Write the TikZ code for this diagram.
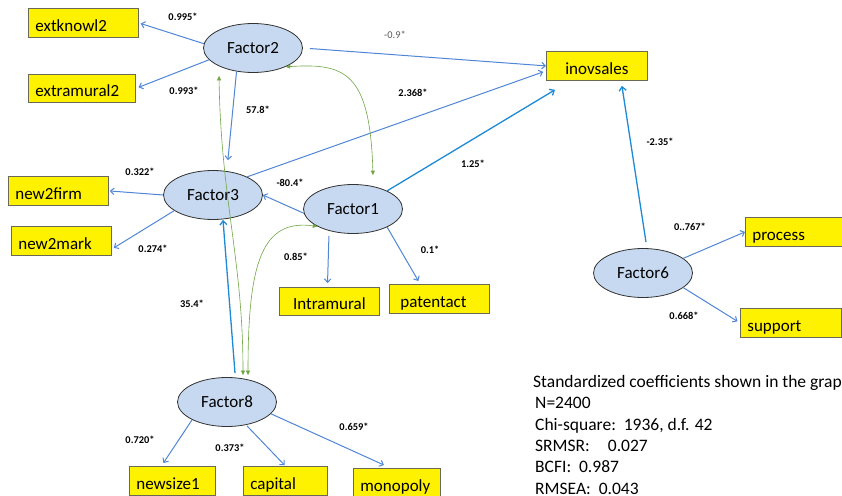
\documentclass[tikz,border=0pt]{standalone}
\usepackage{fontspec}
\setmainfont{Carlito}
\usetikzlibrary{shapes.geometric,arrows.meta}

\definecolor{pathblue}{RGB}{79,134,214}
\definecolor{mainblue}{RGB}{28,138,214}
\definecolor{covgreen}{RGB}{112,166,68}
\definecolor{factorfill}{RGB}{198,217,240}
\definecolor{boxline}{RGB}{105,105,85}

\tikzset{
	factor/.style={ellipse, draw=black!80, fill=factorfill, line width=0.8pt, minimum width=99pt, minimum height=49pt, inner sep=0pt, font=\fontsize{17}{20}\selectfont},
	obs/.style={draw=boxline, fill=yellow, line width=0.8pt, anchor=north west, minimum height=29pt, inner ysep=0pt, inner xsep=7pt, text width=#1, align=left, text height=17.5pt, text depth=0.5pt, font=\fontsize{17}{20}\selectfont},
	coef/.style={inner sep=0pt, font=\bfseries\fontsize{10.4}{12}\selectfont},
	load/.style={draw=pathblue, line width=1pt, -{Straight Barb[length=3.5pt,width=6.5pt]}},
	effect/.style={draw=mainblue, line width=1.3pt, -{Straight Barb[length=4pt,width=7pt]}},
	covar/.style={draw=covgreen, line width=0.6pt, {Triangle[length=4.5pt,width=4pt]}-{Triangle[length=4.5pt,width=4pt]}},
}

\begin{document}
\begin{tikzpicture}[x=1pt,y=-1pt]
		%%%%% START %%%%%
		\useasboundingbox (0,0) rectangle (842,495);
		
		% latent factors
		\node[factor] (factor2) at (253,48) {Factor2};
		\node[factor] (factor3) at (213,195) {Factor3};
		\node[factor] (factor1) at (353,209) {Factor1};
		\node[factor] (factor6) at (643,273) {Factor6};
		\node[factor] (factor8) at (227,402) {Factor8};
		
		% observed variables
		\node[obs=96pt] (extknowl2) at (28,8) {extknowl2};
		\node[obs=93pt, minimum height=28pt] (extramural2) at (28,74) {extramural2};
		\node[obs=87pt, align=center] (inovsales) at (546,51) {inovsales};
		\node[obs=86pt] (new2firm) at (8,176) {new2firm};
		\node[obs=86pt] (new2mark) at (11,226) {new2mark};
		\node[obs=86pt, align=center, minimum height=28pt] (intramural) at (279,287) {Intramural};
		\node[obs=78pt, inner xsep=11pt] (patentact) at (389,284) {patentact};
		\node[obs=86pt] (process) at (745,217) {process};
		\node[obs=87pt] (support) at (740,308) {support};
		\node[obs=72pt] (newsize1) at (129,466) {newsize1};
		\node[obs=70pt] (capital) at (243,466) {capital};
		\node[obs=73pt] (monopoly) at (353,468) {monopoly};
		
		% paths
		\draw[load, shorten >=2pt] (factor2.175) -- (extknowl2.east);
		\draw[load, shorten >=3pt] (factor2.195) -- (extramural2.east);
		\draw[load, shorten <=7pt] (factor2.east) -- (inovsales.west);
		\draw[load, shorten >=11pt] (factor2.235) -- (factor3.60);
		
		\draw[load, shorten >=3pt] (factor3.28) -- ([yshift=-5pt]inovsales.west);
		\draw[load, shorten >=1pt] (factor3.west) -- (new2firm.east);
		\draw[load] (factor3.202) -- ([shift={(2,7)}]new2mark.east);
		
		\draw[load] (factor1.185) -- (factor3.east);
		\draw[effect] (factor1.28) -- ([shift={(9,9)}]inovsales.south west);
		\draw[load, shorten <=2pt, shorten >=4pt] ([xshift=-24pt]factor1.south) -- ([xshift=-2pt]intramural.north);
		\draw[load] (factor1.332) -- ([shift={(-21,-3)}]patentact.north);
		
		\draw[effect] ([shift={(3,-6)}]factor6.north) -- ([shift={(25,5)}]inovsales.south);
		\draw[load] (factor6.20) -- (process.west);
		\draw[load, shorten >=3pt] (factor6.340) -- (support.west);
		
		\draw[effect] ([shift={(8,-4)}]factor8.north) -- ([xshift=10pt]factor3.south);
		\draw[load] (factor8.207) -- ([shift={(-9,-3)}]newsize1.north);
		\draw[load, shorten >=1pt] ([shift={(20,-1)}]factor8.south) -- (capital.north);
		\draw[load] (factor8.345) -- ([shift={(-13,-3)}]monopoly.north);
		
		% covariances
		\draw[covar] (factor2.330) .. controls (345,63) and (370,72) .. ([shift={(20,-9)}]factor1.north);
		\draw[covar] ([shift={(-34,3)}]factor2.south) .. controls (221,200) and (243,260) .. ([shift={(16,-2)}]factor8.north);
		\draw[covar] (factor1.206) .. controls (262,219) and (248,262) .. ([shift={(21,-2)}]factor8.north);
		
		% coefficients
		\node[coef] (c-extknowl2) at (183,17) {0.995*};
		\node[coef] (c-extramural2) at (184,91) {0.993*};
		\node[coef, font=\fontsize{10.4}{12}\selectfont, text=black!65] (c-f2-inov) at (395,35) {-0.9*};
		\node[coef] (c-f2-f3) at (258,110) {57.8*};
		\node[coef] (c-f3-inov) at (413,93) {2.368*};
		\node[coef] (c-f1-inov) at (473,164) {1.25*};
		\node[coef] (c-f1-f3) at (290,183) {-80.4*};
		\node[coef] (c-new2firm) at (140,172) {0.322*};
		\node[coef] (c-new2mark) at (153,249) {0.274*};
		\node[coef] (c-intramural) at (296,257) {0.85*};
		\node[coef] (c-patentact) at (430,250) {0.1*};
		\node[coef] (c-f8-f3) at (192,304) {35.4*};
		\node[coef] (c-f6-inov) at (660,142) {-2.35*};
		\node[coef] (c-process) at (690,227) {0..767*};
		\node[coef] (c-support) at (684,316) {0.668*};
		\node[coef] (c-newsize1) at (140,440) {0.720*};
		\node[coef] (c-capital) at (230,448) {0.373*};
		\node[coef] (c-monopoly) at (354,427) {0.659*};
		
		% fit statistics
		\node[anchor=north west, inner sep=0pt, align=left, font=\fontsize{17.5}{21.4}\selectfont] (fitstats) at (533,375) {Standardized coefficients shown in the graph\\
			\hspace*{2pt}N=2400\\
			\hspace*{2pt}Chi-square:\ \ 1936, d.f. 42\\
			\hspace*{2pt}SRMSR:\hspace{18pt}0.027\\
			\hspace*{2pt}BCFI:\ \ 0.987\\
			\hspace*{2pt}RMSEA:\ \ 0.043};
		
		%%%%% END %%%%%
\end{tikzpicture}
\end{document}
